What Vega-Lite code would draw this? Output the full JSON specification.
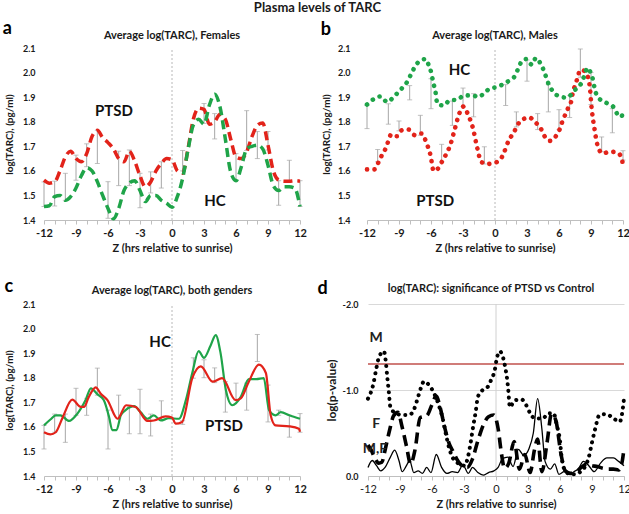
{
"$schema": "https://vega.github.io/schema/vega-lite/v6.json",
"background": "white",
"padding": {"left": 2, "top": 2, "right": 0, "bottom": 2},
"title": {"text": "Plasma levels of TARC", "fontSize": 13, "anchor": "middle", "offset": 5},
"config": {
  "view": {"stroke": null},
  "font": "Lato",
  "title": {"font": "Lato", "fontWeight": "bold", "fontSize": 11, "color": "#1a1a1a"},
  "axis": {"labelFont": "Lato", "titleFont": "Lato", "labelColor": "#1a1a1a", "titleColor": "#1a1a1a", "labelFontWeight": "bold", "titleFontWeight": "bold", "grid": false},
  "axisX": {"domainColor": "#bfbfbf", "tickColor": "#bfbfbf", "tickSize": 4, "labelFontSize": 11, "titleFontSize": 11, "labelPadding": 3, "titlePadding": 4, "labelOverlap": false, "labelFlush": false},
  "axisY": {"domain": false, "ticks": false, "labelFontSize": 9, "titleFontSize": 10, "labelPadding": 9, "titlePadding": 8}
},
"datasets": {
  "fem": [
    {"z":-12,"g":"PTSD","v":1.562},{"z":-11.5,"g":"PTSD","v":1.55},{"z":-11,"g":"PTSD","v":1.555},{"z":-10.5,"g":"PTSD","v":1.6},{"z":-10,"g":"PTSD","v":1.657},{"z":-9.5,"g":"PTSD","v":1.68},{"z":-9,"g":"PTSD","v":1.65},{"z":-8.5,"g":"PTSD","v":1.637},{"z":-8,"g":"PTSD","v":1.67},{"z":-7.5,"g":"PTSD","v":1.74},{"z":-7,"g":"PTSD","v":1.765},{"z":-6.5,"g":"PTSD","v":1.735},{"z":-6,"g":"PTSD","v":1.715},{"z":-5.5,"g":"PTSD","v":1.69},{"z":-5,"g":"PTSD","v":1.65},{"z":-4.5,"g":"PTSD","v":1.637},{"z":-4,"g":"PTSD","v":1.68},{"z":-3.5,"g":"PTSD","v":1.64},{"z":-3,"g":"PTSD","v":1.58},{"z":-2.5,"g":"PTSD","v":1.535},{"z":-2,"g":"PTSD","v":1.555},{"z":-1.5,"g":"PTSD","v":1.6},{"z":-1,"g":"PTSD","v":1.63},{"z":-0.5,"g":"PTSD","v":1.65},{"z":0,"g":"PTSD","v":1.645},{"z":0.5,"g":"PTSD","v":1.6},{"z":1,"g":"PTSD","v":1.59},{"z":1.5,"g":"PTSD","v":1.69},{"z":2,"g":"PTSD","v":1.81},{"z":2.5,"g":"PTSD","v":1.855},{"z":3,"g":"PTSD","v":1.85},{"z":3.5,"g":"PTSD","v":1.79},{"z":4,"g":"PTSD","v":1.8},{"z":4.5,"g":"PTSD","v":1.83},{"z":5,"g":"PTSD","v":1.81},{"z":5.5,"g":"PTSD","v":1.73},{"z":6,"g":"PTSD","v":1.657},{"z":6.5,"g":"PTSD","v":1.65},{"z":7,"g":"PTSD","v":1.678},{"z":7.5,"g":"PTSD","v":1.74},{"z":8,"g":"PTSD","v":1.785},{"z":8.5,"g":"PTSD","v":1.795},{"z":9,"g":"PTSD","v":1.705},{"z":9.5,"g":"PTSD","v":1.6},{"z":10,"g":"PTSD","v":1.563},{"z":10.5,"g":"PTSD","v":1.558},{"z":11,"g":"PTSD","v":1.558},{"z":11.5,"g":"PTSD","v":1.56},{"z":12,"g":"PTSD","v":1.558},
    {"z":-12,"g":"HC","v":1.455},{"z":-11.5,"g":"HC","v":1.458},{"z":-11,"g":"HC","v":1.495},{"z":-10.5,"g":"HC","v":1.5},{"z":-10,"g":"HC","v":1.48},{"z":-9.5,"g":"HC","v":1.495},{"z":-9,"g":"HC","v":1.53},{"z":-8.5,"g":"HC","v":1.58},{"z":-8,"g":"HC","v":1.612},{"z":-7.5,"g":"HC","v":1.6},{"z":-7,"g":"HC","v":1.556},{"z":-6.5,"g":"HC","v":1.5},{"z":-6,"g":"HC","v":1.447},{"z":-5.5,"g":"HC","v":1.405},{"z":-5,"g":"HC","v":1.447},{"z":-4.5,"g":"HC","v":1.52},{"z":-4,"g":"HC","v":1.55},{"z":-3.5,"g":"HC","v":1.56},{"z":-3,"g":"HC","v":1.52},{"z":-2.5,"g":"HC","v":1.475},{"z":-2,"g":"HC","v":1.5},{"z":-1.5,"g":"HC","v":1.5},{"z":-1,"g":"HC","v":1.48},{"z":-0.5,"g":"HC","v":1.468},{"z":0,"g":"HC","v":1.452},{"z":0.5,"g":"HC","v":1.495},{"z":1,"g":"HC","v":1.57},{"z":1.5,"g":"HC","v":1.685},{"z":2,"g":"HC","v":1.786},{"z":2.5,"g":"HC","v":1.81},{"z":3,"g":"HC","v":1.79},{"z":3.5,"g":"HC","v":1.867},{"z":4,"g":"HC","v":1.912},{"z":4.5,"g":"HC","v":1.86},{"z":5,"g":"HC","v":1.73},{"z":5.5,"g":"HC","v":1.596},{"z":6,"g":"HC","v":1.56},{"z":6.5,"g":"HC","v":1.617},{"z":7,"g":"HC","v":1.69},{"z":7.5,"g":"HC","v":1.7},{"z":8,"g":"HC","v":1.705},{"z":8.5,"g":"HC","v":1.69},{"z":9,"g":"HC","v":1.623},{"z":9.5,"g":"HC","v":1.54},{"z":10,"g":"HC","v":1.52},{"z":10.5,"g":"HC","v":1.535},{"z":11,"g":"HC","v":1.535},{"z":11.5,"g":"HC","v":1.53},{"z":12,"g":"HC","v":1.455}
  ],
  "femErr": [
    {"z":-12,"v":1.555,"lo":1.455},{"z":-11,"v":1.558,"lo":1.457},{"z":-10,"v":1.59,"lo":1.48},{"z":-9,"v":1.664,"lo":1.562},{"z":-8,"v":1.71,"lo":1.617},{"z":-7,"v":1.765,"lo":1.63},{"z":-6,"v":1.556,"lo":1.407},{"z":-5,"v":1.68,"lo":1.54},{"z":-4,"v":1.685,"lo":1.54},{"z":-3,"v":1.59,"lo":1.45},{"z":-2,"v":1.596,"lo":1.51},{"z":-1,"v":1.637,"lo":1.53},{"z":1,"v":1.683,"lo":1.6},{"z":3,"v":1.874,"lo":1.793},{"z":4,"v":1.833,"lo":1.73},{"z":6,"v":1.67,"lo":1.56},{"z":7,"v":1.845,"lo":1.683},{"z":8,"v":1.76,"lo":1.65},{"z":9,"v":1.76,"lo":1.685},{"z":10,"v":1.56,"lo":1.46},{"z":11,"v":1.643,"lo":1.558},{"z":12,"v":1.56,"lo":1.455}
  ],
  "male": [
    {"z":-12,"g":"PTSD","v":1.606},{"z":-11.3,"g":"PTSD","v":1.606},{"z":-10.9,"g":"PTSD","v":1.637},{"z":-10.6,"g":"PTSD","v":1.664},{"z":-10.25,"g":"PTSD","v":1.691},{"z":-9.7,"g":"PTSD","v":1.749},{"z":-9.2,"g":"PTSD","v":1.741},{"z":-8.75,"g":"PTSD","v":1.765},{"z":-8.1,"g":"PTSD","v":1.768},{"z":-7.5,"g":"PTSD","v":1.745},{"z":-6.9,"g":"PTSD","v":1.752},{"z":-6.4,"g":"PTSD","v":1.711},{"z":-6.05,"g":"PTSD","v":1.664},{"z":-5.75,"g":"PTSD","v":1.6},{"z":-5.2,"g":"PTSD","v":1.617},{"z":-4.9,"g":"PTSD","v":1.644},{"z":-4.45,"g":"PTSD","v":1.678},{"z":-4.15,"g":"PTSD","v":1.711},{"z":-3.8,"g":"PTSD","v":1.765},{"z":-3.35,"g":"PTSD","v":1.833},{"z":-2.95,"g":"PTSD","v":1.862},{"z":-2.5,"g":"PTSD","v":1.826},{"z":-2.1,"g":"PTSD","v":1.779},{"z":-1.65,"g":"PTSD","v":1.691},{"z":-1.3,"g":"PTSD","v":1.637},{"z":-0.7,"g":"PTSD","v":1.628},{"z":0,"g":"PTSD","v":1.633},{"z":0.45,"g":"PTSD","v":1.644},{"z":0.85,"g":"PTSD","v":1.674},{"z":1.1,"g":"PTSD","v":1.705},{"z":1.4,"g":"PTSD","v":1.732},{"z":1.8,"g":"PTSD","v":1.759},{"z":2.1,"g":"PTSD","v":1.786},{"z":2.6,"g":"PTSD","v":1.809},{"z":3.2,"g":"PTSD","v":1.817},{"z":3.85,"g":"PTSD","v":1.795},{"z":4.3,"g":"PTSD","v":1.772},{"z":4.65,"g":"PTSD","v":1.741},{"z":5.15,"g":"PTSD","v":1.722},{"z":5.65,"g":"PTSD","v":1.738},{"z":6.05,"g":"PTSD","v":1.768},{"z":6.3,"g":"PTSD","v":1.799},{"z":6.6,"g":"PTSD","v":1.83},{"z":6.9,"g":"PTSD","v":1.86},{"z":7.15,"g":"PTSD","v":1.884},{"z":7.3,"g":"PTSD","v":1.921},{"z":7.55,"g":"PTSD","v":1.951},{"z":7.75,"g":"PTSD","v":1.981},{"z":8,"g":"PTSD","v":2.011},{"z":8.4,"g":"PTSD","v":2.006},{"z":8.7,"g":"PTSD","v":1.984},{"z":8.85,"g":"PTSD","v":1.954},{"z":8.95,"g":"PTSD","v":1.914},{"z":9.02,"g":"PTSD","v":1.873},{"z":9.1,"g":"PTSD","v":1.84},{"z":9.2,"g":"PTSD","v":1.806},{"z":9.35,"g":"PTSD","v":1.765},{"z":9.5,"g":"PTSD","v":1.725},{"z":9.75,"g":"PTSD","v":1.687},{"z":10.1,"g":"PTSD","v":1.671},{"z":10.8,"g":"PTSD","v":1.678},{"z":11.5,"g":"PTSD","v":1.674},{"z":11.9,"g":"PTSD","v":1.647},{"z":12,"g":"PTSD","v":1.617},
    {"z":-12,"g":"HC","v":1.87},{"z":-11.3,"g":"HC","v":1.894},{"z":-10.75,"g":"HC","v":1.903},{"z":-10.1,"g":"HC","v":1.88},{"z":-9.6,"g":"HC","v":1.896},{"z":-9.2,"g":"HC","v":1.914},{"z":-8.65,"g":"HC","v":1.94},{"z":-8.25,"g":"HC","v":1.961},{"z":-7.85,"g":"HC","v":1.995},{"z":-7.45,"g":"HC","v":2.028},{"z":-7,"g":"HC","v":2.049},{"z":-6.5,"g":"HC","v":2.055},{"z":-6.2,"g":"HC","v":2.028},{"z":-5.95,"g":"HC","v":1.995},{"z":-5.8,"g":"HC","v":1.961},{"z":-5.6,"g":"HC","v":1.927},{"z":-5.4,"g":"HC","v":1.873},{"z":-4.8,"g":"HC","v":1.866},{"z":-4.25,"g":"HC","v":1.887},{"z":-3.5,"g":"HC","v":1.89},{"z":-2.9,"g":"HC","v":1.907},{"z":-2.1,"g":"HC","v":1.907},{"z":-1.55,"g":"HC","v":1.9},{"z":-1,"g":"HC","v":1.917},{"z":-0.4,"g":"HC","v":1.937},{"z":0.1,"g":"HC","v":1.94},{"z":0.7,"g":"HC","v":1.951},{"z":1.35,"g":"HC","v":1.968},{"z":1.9,"g":"HC","v":1.988},{"z":2.2,"g":"HC","v":2.019},{"z":2.6,"g":"HC","v":2.051},{"z":2.95,"g":"HC","v":2.055},{"z":3.45,"g":"HC","v":2.032},{"z":3.85,"g":"HC","v":2.06},{"z":4.2,"g":"HC","v":2.042},{"z":4.55,"g":"HC","v":2.011},{"z":5.05,"g":"HC","v":1.951},{"z":5.4,"g":"HC","v":1.925},{"z":6.05,"g":"HC","v":1.903},{"z":6.75,"g":"HC","v":1.898},{"z":7.45,"g":"HC","v":1.927},{"z":8.15,"g":"HC","v":1.961},{"z":8.7,"g":"HC","v":2.019},{"z":9,"g":"HC","v":1.995},{"z":9.2,"g":"HC","v":1.968},{"z":9.35,"g":"HC","v":1.934},{"z":9.65,"g":"HC","v":1.9},{"z":10.6,"g":"HC","v":1.873},{"z":11.1,"g":"HC","v":1.86},{"z":11.55,"g":"HC","v":1.826},{"z":11.85,"g":"HC","v":1.82},{"z":12,"g":"HC","v":1.847}
  ],
  "maleErr": [
    {"z":-12,"v":1.866,"lo":1.772},{"z":-11,"v":1.687,"lo":1.637},{"z":-10,"v":1.873,"lo":1.79},{"z":-9,"v":1.803,"lo":1.763},{"z":-8,"v":1.947,"lo":1.889},{"z":-7,"v":1.826,"lo":1.745},{"z":-6,"v":1.975,"lo":1.853},{"z":-5,"v":1.708,"lo":1.637},{"z":-4,"v":1.884,"lo":1.785},{"z":-3,"v":1.937,"lo":1.862},{"z":-2,"v":1.914,"lo":1.82},{"z":-1,"v":1.698,"lo":1.628},{"z":1,"v":1.951,"lo":1.866},{"z":2,"v":1.84,"lo":1.779},{"z":3,"v":2.051,"lo":1.965},{"z":4,"v":1.833,"lo":1.768},{"z":5,"v":1.951,"lo":1.84},{"z":6,"v":1.849,"lo":1.768},{"z":7,"v":1.907,"lo":1.817},{"z":8,"v":2.096,"lo":1.981},{"z":9,"v":2.0,"lo":1.87},{"z":10,"v":1.738,"lo":1.678},{"z":11,"v":1.853,"lo":1.755},{"z":12,"v":1.682,"lo":1.644}
  ],
  "both": [
    {"z":-12,"g":"HC","v":1.606},{"z":-11.4,"g":"HC","v":1.63},{"z":-10.9,"g":"HC","v":1.647},{"z":-10.45,"g":"HC","v":1.647},{"z":-9.65,"g":"HC","v":1.624},{"z":-8.9,"g":"HC","v":1.652},{"z":-8.1,"g":"HC","v":1.709},{"z":-7.6,"g":"HC","v":1.757},{"z":-7,"g":"HC","v":1.733},{"z":-6.4,"g":"HC","v":1.709},{"z":-5.9,"g":"HC","v":1.64},{"z":-5.6,"g":"HC","v":1.587},{"z":-5.2,"g":"HC","v":1.587},{"z":-4.8,"g":"HC","v":1.647},{"z":-4.35,"g":"HC","v":1.668},{"z":-3.55,"g":"HC","v":1.684},{"z":-2.95,"g":"HC","v":1.66},{"z":-2.3,"g":"HC","v":1.633},{"z":-1.7,"g":"HC","v":1.647},{"z":-1.05,"g":"HC","v":1.626},{"z":-0.3,"g":"HC","v":1.635},{"z":0.65,"g":"HC","v":1.633},{"z":1.3,"g":"HC","v":1.709},{"z":1.9,"g":"HC","v":1.819},{"z":2.5,"g":"HC","v":1.908},{"z":3,"g":"HC","v":1.881},{"z":3.6,"g":"HC","v":1.929},{"z":4.1,"g":"HC","v":1.973},{"z":4.55,"g":"HC","v":1.901},{"z":5.05,"g":"HC","v":1.75},{"z":5.65,"g":"HC","v":1.688},{"z":6.45,"g":"HC","v":1.722},{"z":7.2,"g":"HC","v":1.794},{"z":7.9,"g":"HC","v":1.794},{"z":8.6,"g":"HC","v":1.798},{"z":9.1,"g":"HC","v":1.668},{"z":9.7,"g":"HC","v":1.647},{"z":10.2,"g":"HC","v":1.66},{"z":11,"g":"HC","v":1.647},{"z":12,"g":"HC","v":1.633},
    {"z":-12,"g":"PTSD","v":1.578},{"z":-11.4,"g":"PTSD","v":1.569},{"z":-10.9,"g":"PTSD","v":1.578},{"z":-10.3,"g":"PTSD","v":1.633},{"z":-9.35,"g":"PTSD","v":1.711},{"z":-8.55,"g":"PTSD","v":1.681},{"z":-8.25,"g":"PTSD","v":1.681},{"z":-7.8,"g":"PTSD","v":1.722},{"z":-7.15,"g":"PTSD","v":1.761},{"z":-6.7,"g":"PTSD","v":1.736},{"z":-6.05,"g":"PTSD","v":1.709},{"z":-5.1,"g":"PTSD","v":1.633},{"z":-4.3,"g":"PTSD","v":1.688},{"z":-3.4,"g":"PTSD","v":1.681},{"z":-2.3,"g":"PTSD","v":1.624},{"z":-1.7,"g":"PTSD","v":1.626},{"z":-0.6,"g":"PTSD","v":1.643},{"z":0,"g":"PTSD","v":1.638},{"z":0.35,"g":"PTSD","v":1.613},{"z":0.95,"g":"PTSD","v":1.62},{"z":1.9,"g":"PTSD","v":1.798},{"z":2.7,"g":"PTSD","v":1.846},{"z":3.8,"g":"PTSD","v":1.784},{"z":4.7,"g":"PTSD","v":1.798},{"z":5.95,"g":"PTSD","v":1.709},{"z":6.45,"g":"PTSD","v":1.716},{"z":7.2,"g":"PTSD","v":1.784},{"z":8.15,"g":"PTSD","v":1.853},{"z":8.8,"g":"PTSD","v":1.819},{"z":9.25,"g":"PTSD","v":1.647},{"z":9.7,"g":"PTSD","v":1.606},{"z":11,"g":"PTSD","v":1.602},{"z":11.9,"g":"PTSD","v":1.592},{"z":12,"g":"PTSD","v":1.58}
  ],
  "bothErr": [
    {"z":-12,"v":1.606,"lo":1.51},{"z":-11,"v":1.652,"lo":1.578},{"z":-10,"v":1.652,"lo":1.537},{"z":-9,"v":1.757,"lo":1.647},{"z":-8,"v":1.716,"lo":1.647},{"z":-7,"v":1.839,"lo":1.729},{"z":-6,"v":1.668,"lo":1.51},{"z":-5,"v":1.729,"lo":1.633},{"z":-4,"v":1.681,"lo":1.572},{"z":-3,"v":1.753,"lo":1.572},{"z":-2,"v":1.652,"lo":1.563},{"z":-1,"v":1.706,"lo":1.626},{"z":1,"v":1.625,"lo":1.61},{"z":2,"v":1.881,"lo":1.798},{"z":3,"v":1.873,"lo":1.8},{"z":4,"v":1.84,"lo":1.78},{"z":5,"v":1.784,"lo":1.66},{"z":6,"v":1.778,"lo":1.709},{"z":7,"v":1.778,"lo":1.668},{"z":8,"v":1.976,"lo":1.866},{"z":9,"v":1.77,"lo":1.62},{"z":10,"v":1.668,"lo":1.647},{"z":11,"v":1.647,"lo":1.558},{"z":12,"v":1.654,"lo":1.578}
  ],
  "sig": [
    {"z":-12,"s":"M","v":-0.9},{"z":-11.5,"s":"M","v":-1.07},{"z":-11.25,"s":"M","v":-1.23},{"z":-11.05,"s":"M","v":-1.35},{"z":-10.75,"s":"M","v":-1.43},{"z":-10.5,"s":"M","v":-1.45},{"z":-10.35,"s":"M","v":-1.35},{"z":-10.2,"s":"M","v":-1.16},{"z":-10.05,"s":"M","v":-0.98},{"z":-9.9,"s":"M","v":-0.8},{"z":-9.4,"s":"M","v":-0.73},{"z":-8.8,"s":"M","v":-0.71},{"z":-8.15,"s":"M","v":-0.71},{"z":-7.7,"s":"M","v":-0.77},{"z":-7.4,"s":"M","v":-0.88},{"z":-7.05,"s":"M","v":-1.02},{"z":-6.75,"s":"M","v":-1.1},{"z":-6.3,"s":"M","v":-1.06},{"z":-5.8,"s":"M","v":-0.96},{"z":-5.3,"s":"M","v":-0.8},{"z":-5,"s":"M","v":-0.67},{"z":-4.7,"s":"M","v":-0.49},{"z":-4.4,"s":"M","v":-0.33},{"z":-4.05,"s":"M","v":-0.21},{"z":-3.45,"s":"M","v":-0.14},{"z":-2.95,"s":"M","v":-0.12},{"z":-2.65,"s":"M","v":-0.21},{"z":-2.4,"s":"M","v":-0.37},{"z":-2.15,"s":"M","v":-0.57},{"z":-1.9,"s":"M","v":-0.75},{"z":-1.7,"s":"M","v":-0.92},{"z":-1.25,"s":"M","v":-1.0},{"z":-0.75,"s":"M","v":-1.04},{"z":-0.45,"s":"M","v":-1.12},{"z":-0.1,"s":"M","v":-1.24},{"z":0.05,"s":"M","v":-1.35},{"z":0.35,"s":"M","v":-1.45},{"z":0.7,"s":"M","v":-1.36},{"z":0.9,"s":"M","v":-1.24},{"z":1.05,"s":"M","v":-1.12},{"z":1.15,"s":"M","v":-1.0},{"z":1.3,"s":"M","v":-0.8},{"z":1.75,"s":"M","v":-0.88},{"z":2.4,"s":"M","v":-0.89},{"z":2.85,"s":"M","v":-0.82},{"z":3.2,"s":"M","v":-0.73},{"z":3.65,"s":"M","v":-0.67},{"z":4.4,"s":"M","v":-0.67},{"z":4.9,"s":"M","v":-0.73},{"z":5.4,"s":"M","v":-0.73},{"z":5.7,"s":"M","v":-0.59},{"z":6,"s":"M","v":-0.41},{"z":6.15,"s":"M","v":-0.22},{"z":6.5,"s":"M","v":-0.06},{"z":7,"s":"M","v":-0.02},{"z":7.5,"s":"M","v":-0.02},{"z":8,"s":"M","v":-0.06},{"z":8.4,"s":"M","v":-0.12},{"z":8.7,"s":"M","v":-0.22},{"z":9,"s":"M","v":-0.39},{"z":9.3,"s":"M","v":-0.55},{"z":9.7,"s":"M","v":-0.71},{"z":10.35,"s":"M","v":-0.72},{"z":11,"s":"M","v":-0.67},{"z":11.6,"s":"M","v":-0.63},{"z":11.85,"s":"M","v":-0.75},{"z":12,"s":"M","v":-0.9},
    {"z":-12,"s":"F","v":-0.36},{"z":-11.7,"s":"F","v":-0.3},{"z":-11.4,"s":"F","v":-0.22},{"z":-11,"s":"F","v":-0.15},{"z":-10.7,"s":"F","v":-0.16},{"z":-10.4,"s":"F","v":-0.3},{"z":-10,"s":"F","v":-0.52},{"z":-9.6,"s":"F","v":-0.7},{"z":-9.2,"s":"F","v":-0.74},{"z":-8.8,"s":"F","v":-0.57},{"z":-8.4,"s":"F","v":-0.35},{"z":-8,"s":"F","v":-0.14},{"z":-7.6,"s":"F","v":-0.3},{"z":-7.1,"s":"F","v":-0.68},{"z":-6.5,"s":"F","v":-0.7},{"z":-6,"s":"F","v":-0.83},{"z":-5.6,"s":"F","v":-0.93},{"z":-5.2,"s":"F","v":-0.78},{"z":-4.8,"s":"F","v":-0.56},{"z":-4.4,"s":"F","v":-0.38},{"z":-4,"s":"F","v":-0.28},{"z":-3.6,"s":"F","v":-0.18},{"z":-3.2,"s":"F","v":-0.12},{"z":-2.7,"s":"F","v":-0.1},{"z":-2.2,"s":"F","v":-0.2},{"z":-1.7,"s":"F","v":-0.41},{"z":-1.2,"s":"F","v":-0.59},{"z":-0.7,"s":"F","v":-0.69},{"z":-0.2,"s":"F","v":-0.71},{"z":0.2,"s":"F","v":-0.55},{"z":0.5,"s":"F","v":-0.27},{"z":0.8,"s":"F","v":-0.09},{"z":1.2,"s":"F","v":-0.15},{"z":1.7,"s":"F","v":-0.4},{"z":2.2,"s":"F","v":-0.08},{"z":2.7,"s":"F","v":-0.25},{"z":3.2,"s":"F","v":-0.04},{"z":3.6,"s":"F","v":-0.3},{"z":3.9,"s":"F","v":-0.43},{"z":4.3,"s":"F","v":-0.05},{"z":4.8,"s":"F","v":-0.4},{"z":5.2,"s":"F","v":-0.72},{"z":5.6,"s":"F","v":-0.65},{"z":6.1,"s":"F","v":-0.25},{"z":6.5,"s":"F","v":-0.06},{"z":7,"s":"F","v":-0.03},{"z":7.5,"s":"F","v":-0.05},{"z":8,"s":"F","v":-0.1},{"z":8.5,"s":"F","v":-0.14},{"z":9,"s":"F","v":-0.12},{"z":9.5,"s":"F","v":-0.11},{"z":10,"s":"F","v":-0.09},{"z":10.5,"s":"F","v":-0.08},{"z":11,"s":"F","v":-0.08},{"z":11.5,"s":"F","v":-0.07},{"z":11.8,"s":"F","v":-0.15},{"z":12,"s":"F","v":-0.32},
    {"z":-12,"s":"MF","v":-0.1},{"z":-11.6,"s":"MF","v":-0.18},{"z":-11.2,"s":"MF","v":-0.12},{"z":-10.8,"s":"MF","v":-0.06},{"z":-10.4,"s":"MF","v":-0.1},{"z":-9.9,"s":"MF","v":-0.22},{"z":-9.5,"s":"MF","v":-0.3},{"z":-9.1,"s":"MF","v":-0.18},{"z":-8.8,"s":"MF","v":-0.05},{"z":-8.4,"s":"MF","v":-0.12},{"z":-8.1,"s":"MF","v":-0.18},{"z":-7.7,"s":"MF","v":-0.04},{"z":-7.3,"s":"MF","v":-0.06},{"z":-6.9,"s":"MF","v":-0.03},{"z":-6.5,"s":"MF","v":-0.1},{"z":-6.1,"s":"MF","v":-0.04},{"z":-5.6,"s":"MF","v":-0.25},{"z":-5.1,"s":"MF","v":-0.1},{"z":-4.6,"s":"MF","v":-0.03},{"z":-4.1,"s":"MF","v":-0.05},{"z":-3.6,"s":"MF","v":-0.04},{"z":-3.1,"s":"MF","v":-0.13},{"z":-2.6,"s":"MF","v":-0.03},{"z":-2.2,"s":"MF","v":-0.1},{"z":-1.7,"s":"MF","v":-0.04},{"z":-1.2,"s":"MF","v":-0.01},{"z":-0.7,"s":"MF","v":-0.04},{"z":-0.2,"s":"MF","v":-0.06},{"z":0.2,"s":"MF","v":-0.1},{"z":0.6,"s":"MF","v":-0.2},{"z":1.1,"s":"MF","v":-0.22},{"z":1.6,"s":"MF","v":-0.11},{"z":2.1,"s":"MF","v":-0.31},{"z":2.6,"s":"MF","v":-0.24},{"z":3.1,"s":"MF","v":-0.32},{"z":3.5,"s":"MF","v":-0.5},{"z":3.9,"s":"MF","v":-0.9},{"z":4.3,"s":"MF","v":-0.55},{"z":4.6,"s":"MF","v":-0.17},{"z":5.1,"s":"MF","v":-0.08},{"z":5.5,"s":"MF","v":-0.14},{"z":5.9,"s":"MF","v":-0.02},{"z":6.4,"s":"MF","v":-0.05},{"z":6.9,"s":"MF","v":-0.02},{"z":7.3,"s":"MF","v":-0.05},{"z":7.7,"s":"MF","v":-0.08},{"z":8.2,"s":"MF","v":-0.17},{"z":8.7,"s":"MF","v":-0.12},{"z":9.2,"s":"MF","v":-0.05},{"z":9.8,"s":"MF","v":-0.15},{"z":10.4,"s":"MF","v":-0.21},{"z":11,"s":"MF","v":-0.21},{"z":11.5,"s":"MF","v":-0.17},{"z":12,"s":"MF","v":-0.12}
  ]
},
"vconcat": [
  {"hconcat": [
    {"width": 256, "height": 172,
     "encoding": {
       "x": {"field": "z", "type": "quantitative", "scale": {"domain": [-12, 12], "nice": false}, "axis": {"values": [-12,-11,-10,-9,-8,-7,-6,-5,-4,-3,-2,-1,0,1,2,3,4,5,6,7,8,9,10,11,12], "labelExpr": "datum.value % 3 === 0 ? '' + datum.value : ''", "title": "Z (hrs relative to sunrise)"}},
       "y": {"field": "v", "type": "quantitative", "scale": {"domain": [1.4, 2.1], "nice": false, "zero": false}, "axis": {"values": [1.4,1.5,1.6,1.7,1.8,1.9,2.0,2.1], "format": ".1f", "title": "log(TARC),  (pg/ml)"}}
     },
     "layer": [
       {"data": {"values": [{"z": 0, "v": 1.4, "v2": 2.1}]}, "mark": {"type": "rule", "color": "#b8b8b8", "strokeDash": [2, 2]}, "encoding": {"y2": {"field": "v2"}}},
       {"data": {"name": "femErr"}, "mark": {"type": "rule", "color": "#a6a6a6"}, "encoding": {"y2": {"field": "lo"}}},
       {"data": {"name": "femErr"}, "mark": {"type": "tick", "orient": "horizontal", "color": "#a6a6a6", "size": 5, "thickness": 1}},
       {"data": {"name": "femErr"}, "mark": {"type": "tick", "orient": "horizontal", "color": "#a6a6a6", "size": 5, "thickness": 1}, "encoding": {"y": {"field": "lo", "type": "quantitative", "title": "log(TARC),  (pg/ml)"}}},
       {"data": {"name": "fem"}, "mark": {"type": "line", "interpolate": "monotone", "strokeWidth": 3.5, "strokeDash": [9, 5]}, "encoding": {"color": {"field": "g", "type": "nominal", "scale": {"domain": ["PTSD", "HC"], "range": ["#e2231a", "#1fa449"]}, "legend": null}}},
       {"data": {"values": [{"z": -5.44, "v": 1.844, "t": "PTSD"}, {"z": 4.03, "v": 1.477, "t": "HC"}]}, "mark": {"type": "text", "fontSize": 15, "fontWeight": "bold", "color": "#111"}, "encoding": {"text": {"field": "t"}}},
       {"data": {"values": [{"z": 0, "v": 2.149, "t": "Average log(TARC),  Females"}]}, "mark": {"type": "text", "fontSize": 11, "fontWeight": "bold", "color": "#1a1a1a"}, "encoding": {"text": {"field": "t"}}},
       {"data": {"values": [{"z": -15.45, "v": 2.177, "t": "a"}]}, "mark": {"type": "text", "fontSize": 18, "fontWeight": "bold", "color": "#000"}, "encoding": {"text": {"field": "t"}}}
     ]
    },
    {"width": 256, "height": 172,
     "encoding": {
       "x": {"field": "z", "type": "quantitative", "scale": {"domain": [-12, 12], "nice": false}, "axis": {"values": [-12,-11,-10,-9,-8,-7,-6,-5,-4,-3,-2,-1,0,1,2,3,4,5,6,7,8,9,10,11,12], "labelExpr": "datum.value % 3 === 0 ? '' + datum.value : ''", "title": "Z (hrs relative to sunrise)"}},
       "y": {"field": "v", "type": "quantitative", "scale": {"domain": [1.4, 2.1], "nice": false, "zero": false}, "axis": {"values": [1.4,1.5,1.6,1.7,1.8,1.9,2.0,2.1], "format": ".1f", "title": "log(TARC),  (pg/ml)", "labelPadding": 17, "titlePadding": 6}}
     },
     "layer": [
       {"data": {"values": [{"z": 0, "v": 1.4, "v2": 2.1}]}, "mark": {"type": "rule", "color": "#b8b8b8", "strokeDash": [2, 2]}, "encoding": {"y2": {"field": "v2"}}},
       {"data": {"name": "maleErr"}, "mark": {"type": "rule", "color": "#a6a6a6"}, "encoding": {"y2": {"field": "lo"}}},
       {"data": {"name": "maleErr"}, "mark": {"type": "tick", "orient": "horizontal", "color": "#a6a6a6", "size": 5, "thickness": 1}},
       {"data": {"name": "maleErr"}, "mark": {"type": "tick", "orient": "horizontal", "color": "#a6a6a6", "size": 5, "thickness": 1}, "encoding": {"y": {"field": "lo", "type": "quantitative", "title": "log(TARC),  (pg/ml)"}}},
       {"data": {"name": "male"}, "mark": {"type": "line", "interpolate": "monotone", "strokeWidth": 4.6, "strokeDash": [0.1, 7.4], "strokeCap": "round"}, "encoding": {"color": {"field": "g", "type": "nominal", "scale": {"domain": ["PTSD", "HC"], "range": ["#e2231a", "#1fa449"]}, "legend": null}}},
       {"data": {"values": [{"z": -3.34, "v": 2.01, "t": "HC"}, {"z": -5.6, "v": 1.477, "t": "PTSD"}]}, "mark": {"type": "text", "fontSize": 15, "fontWeight": "bold", "color": "#111"}, "encoding": {"text": {"field": "t"}}},
       {"data": {"values": [{"z": 0, "v": 2.149, "t": "Average log(TARC),  Males"}]}, "mark": {"type": "text", "fontSize": 11, "fontWeight": "bold", "color": "#1a1a1a"}, "encoding": {"text": {"field": "t"}}},
       {"data": {"values": [{"z": -15.85, "v": 2.173, "t": "b"}]}, "mark": {"type": "text", "fontSize": 18, "fontWeight": "bold", "color": "#000"}, "encoding": {"text": {"field": "t"}}}
     ]
    }
  ], "spacing": 67, "bounds": "flush"},
  {"hconcat": [
    {"width": 256, "height": 172,
     "encoding": {
       "x": {"field": "z", "type": "quantitative", "scale": {"domain": [-12, 12], "nice": false}, "axis": {"values": [-12,-11,-10,-9,-8,-7,-6,-5,-4,-3,-2,-1,0,1,2,3,4,5,6,7,8,9,10,11,12], "labelExpr": "datum.value % 3 === 0 ? '' + datum.value : ''", "title": "Z (hrs relative to sunrise)"}},
       "y": {"field": "v", "type": "quantitative", "scale": {"domain": [1.4, 2.1], "nice": false, "zero": false}, "axis": {"values": [1.4,1.5,1.6,1.7,1.8,1.9,2.0,2.1], "format": ".1f", "title": "log(TARC),  (pg/ml)"}}
     },
     "layer": [
       {"data": {"values": [{"z": 0, "v": 1.4, "v2": 2.1}]}, "mark": {"type": "rule", "color": "#b8b8b8", "strokeDash": [2, 2]}, "encoding": {"y2": {"field": "v2"}}},
       {"data": {"name": "bothErr"}, "mark": {"type": "rule", "color": "#a6a6a6"}, "encoding": {"y2": {"field": "lo"}}},
       {"data": {"name": "bothErr"}, "mark": {"type": "tick", "orient": "horizontal", "color": "#a6a6a6", "size": 5, "thickness": 1}},
       {"data": {"name": "bothErr"}, "mark": {"type": "tick", "orient": "horizontal", "color": "#a6a6a6", "size": 5, "thickness": 1}, "encoding": {"y": {"field": "lo", "type": "quantitative", "title": "log(TARC),  (pg/ml)"}}},
       {"data": {"name": "both"}, "mark": {"type": "line", "interpolate": "monotone", "strokeWidth": 2.2}, "encoding": {"color": {"field": "g", "type": "nominal", "scale": {"domain": ["HC", "PTSD"], "range": ["#1fa449", "#e2231a"]}, "legend": null}}},
       {"data": {"values": [{"z": -1.12, "v": 1.945, "t": "HC"}, {"z": 4.88, "v": 1.603, "t": "PTSD"}]}, "mark": {"type": "text", "fontSize": 15, "fontWeight": "bold", "color": "#111"}, "encoding": {"text": {"field": "t"}}},
       {"data": {"values": [{"z": 0, "v": 2.153, "t": "Average log(TARC),  both genders"}]}, "mark": {"type": "text", "fontSize": 11, "fontWeight": "bold", "color": "#1a1a1a"}, "encoding": {"text": {"field": "t"}}},
       {"data": {"values": [{"z": -15.3, "v": 2.17, "t": "c"}]}, "mark": {"type": "text", "fontSize": 18, "fontWeight": "bold", "color": "#000"}, "encoding": {"text": {"field": "t"}}}
     ]
    },
    {"width": 256, "height": 172,
     "encoding": {
       "x": {"field": "z", "type": "quantitative", "scale": {"domain": [-12, 12], "nice": false}, "axis": {"values": [-12,-11,-10,-9,-8,-7,-6,-5,-4,-3,-2,-1,0,1,2,3,4,5,6,7,8,9,10,11,12], "labelExpr": "datum.value % 3 === 0 ? '' + datum.value : ''", "title": "Z (hrs relative to sunrise)", "labelFontWeight": "normal"}},
       "y": {"field": "v", "type": "quantitative", "scale": {"domain": [-2, 0], "reverse": true, "nice": false, "zero": false}, "axis": {"values": [-2, -1, 0], "format": ".1f", "labelExpr": "replace(datum.label, '\u2212', '-')", "grid": true, "gridColor": "#d9d9d9", "title": "log(p-value)", "titleFontSize": 12, "labelPadding": 10, "titlePadding": 4}}
     },
     "layer": [
       {"data": {"values": [{"z": 0, "v": -2, "v2": 0}]}, "mark": {"type": "rule", "color": "#d0d0d0"}, "encoding": {"y2": {"field": "v2"}}},
       {"data": {"values": [{"z": -12, "z2": 12, "v": -1.301}]}, "mark": {"type": "rule", "color": "#c0504d", "strokeWidth": 1.5}, "encoding": {"x2": {"field": "z2"}}},
       {"data": {"name": "sig"}, "transform": [{"filter": "datum.s === 'MF'"}], "mark": {"type": "line", "interpolate": "monotone", "strokeWidth": 1.3, "color": "#000"}},
       {"data": {"name": "sig"}, "transform": [{"filter": "datum.s === 'F'"}], "mark": {"type": "line", "interpolate": "monotone", "strokeWidth": 3.6, "strokeDash": [11, 6], "color": "#000"}},
       {"data": {"name": "sig"}, "transform": [{"filter": "datum.s === 'M'"}], "mark": {"type": "line", "interpolate": "monotone", "strokeWidth": 4, "strokeDash": [0.1, 6.5], "strokeCap": "round", "color": "#000"}},
       {"data": {"values": [{"z": -11.24, "v": -1.6, "t": "M"}, {"z": -11.24, "v": -0.6, "t": "F"}, {"z": -11.34, "v": -0.31, "t": "M,F"}]}, "mark": {"type": "text", "fontSize": 14, "fontWeight": "bold", "color": "#222"}, "encoding": {"text": {"field": "t"}}},
       {"data": {"values": [{"z": -0.47, "v": -2.174, "t": "log(TARC): significance of PTSD vs Control"}]}, "mark": {"type": "text", "fontSize": 11, "fontWeight": "bold", "color": "#1a1a1a"}, "encoding": {"text": {"field": "t"}}},
       {"data": {"values": [{"z": -16.25, "v": -2.17, "t": "d"}]}, "mark": {"type": "text", "fontSize": 18, "fontWeight": "bold", "color": "#000"}, "encoding": {"text": {"field": "t"}}}
     ]
    }
  ], "spacing": 68, "bounds": "flush"}
],
"spacing": 256,
"bounds": "flush"
}
